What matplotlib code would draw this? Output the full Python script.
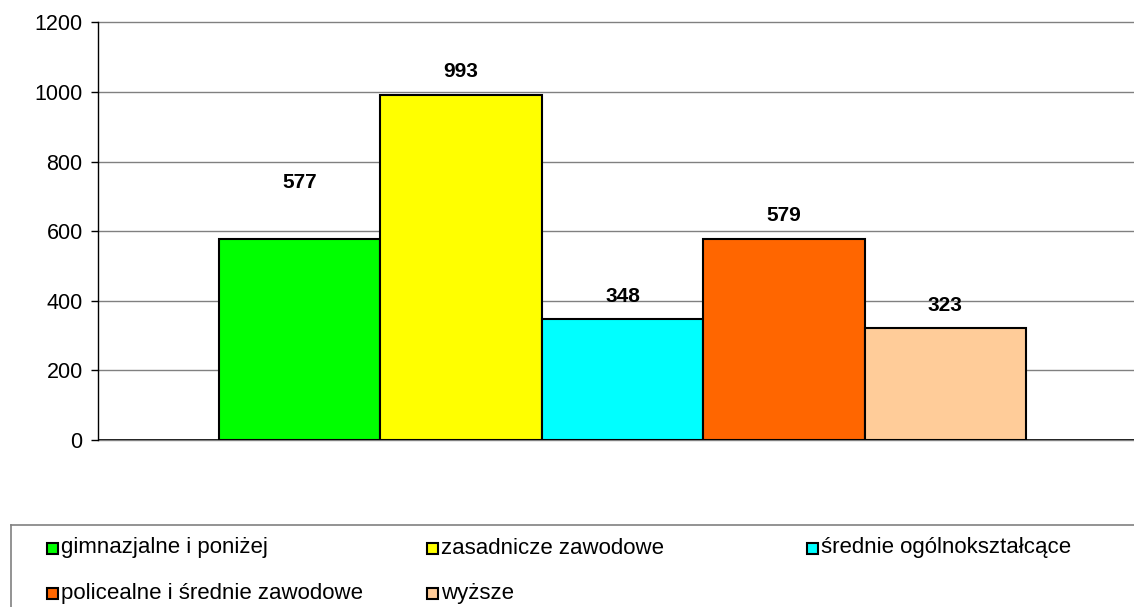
import matplotlib.pyplot as plt
from matplotlib.patches import Rectangle

plt.rcParams['font.family'] = ['Liberation Sans', 'DejaVu Sans']

categories = ['gimnazjalne i poniżej', 'zasadnicze zawodowe',
              'średnie ogólnokształcące', 'policealne i średnie zawodowe',
              'wyższe']
values = [577, 993, 348, 579, 323]
colors = ['#00FF00', '#FFFF00', '#00FFFF', '#FF6600', '#FFCC99']
yticks = [0, 200, 400, 600, 800, 1000, 1200]
# label offsets above the bar tops (pixels), as placed in the source chart
label_offsets = [57, 23, 22, 23, 22]

fig = plt.figure(figsize=(11.34, 6.07), dpi=100)
ax = fig.add_axes([98 / 1134, 1 - 440 / 607, 1.02 - 98 / 1134, 417.5 / 607])

x = list(range(len(values)))
ax.bar(x, values, width=1.0, color=colors, edgecolor='black',
       linewidth=1.5, zorder=3)

for xi, v, off in zip(x, values, label_offsets):
    ax.annotate(str(v), (xi, v), xytext=(0, off * 0.72),
                textcoords='offset points', ha='center', va='center',
                fontsize=15, fontweight='bold', zorder=4)

ax.set_xlim(-1.25, 5.31)
ax.set_ylim(0, 1200)
ax.set_yticks(yticks)
ax.set_yticklabels([str(t) for t in yticks], fontsize=15.5)
ax.set_xticks([])
ax.yaxis.grid(True, color='#808080', linewidth=1.0, zorder=0)
for gl in ax.get_ygridlines():
    gl.set_clip_on(False)
ax.axhline(0, color='black', linewidth=1.2, zorder=2)
for s in ['top', 'right', 'bottom']:
    ax.spines[s].set_visible(False)
ax.spines['left'].set_linewidth(1.0)
ax.tick_params(axis='y', length=5, width=1.0, pad=6, direction='out')

# legend box
lax = fig.add_axes([11 / 1134, 0, 1.05, 82 / 607])
lax.set_xlim(0, 1.05 * 1134)
lax.set_ylim(0, 82)
lax.set_xticks([])
lax.set_yticks([])
for s in ['right', 'bottom']:
    lax.spines[s].set_visible(False)
for s in ['top', 'left']:
    lax.spines[s].set_color('#808080')
    lax.spines[s].set_linewidth(1.2)

col_x = [36, 416, 796]
row_y = [59, 14]
for i, (name, c) in enumerate(zip(categories, colors)):
    cx = col_x[i % 3]
    cy = row_y[i // 3]
    lax.add_patch(Rectangle((cx, cy - 5.5), 11, 11, facecolor=c,
                            edgecolor='black', linewidth=1.5))
    lax.text(cx + 14, cy, name, fontsize=16, va='center', ha='left')

fig.savefig('out.png', dpi=100)
